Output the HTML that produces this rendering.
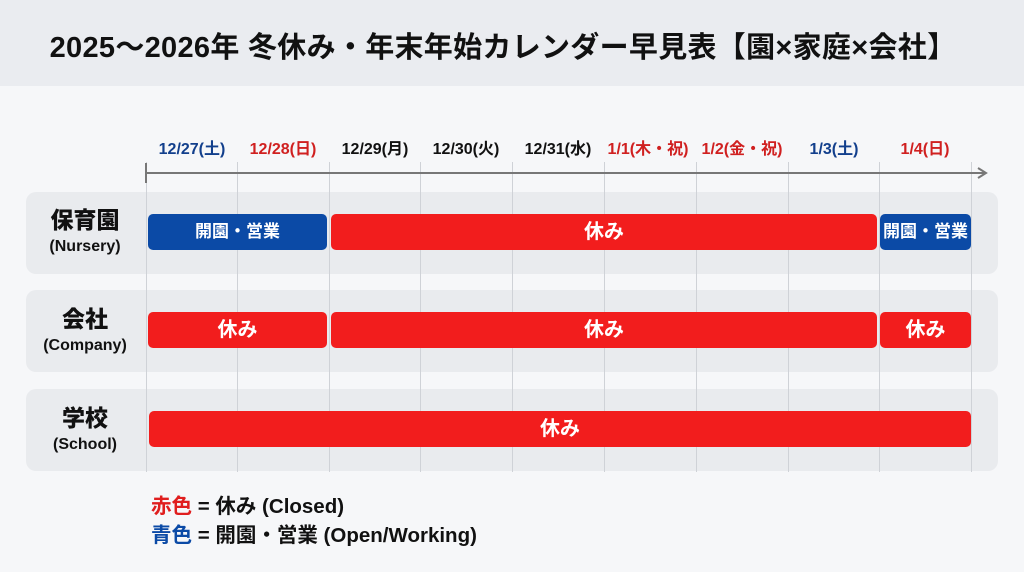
<!DOCTYPE html>
<html><head><meta charset="utf-8"><style>
body{margin:0;width:1024px;height:572px;background:#f6f7f9;font-family:"Liberation Sans","Noto Sans CJK JP",sans-serif;position:relative;overflow:hidden}
.t{position:absolute;left:0;top:0;width:1024px;height:86px;background:#eaecf0}
.t div{position:absolute;left:0;width:1006px;top:24px;text-align:center;font-size:29px;letter-spacing:0.3px;font-weight:bold;color:#111;white-space:nowrap}
.d{position:absolute;top:135px;width:92px;text-align:center;font-size:16px;font-weight:bold;white-space:nowrap}
.row{position:absolute;left:26px;width:972px;height:82px;background:#e9ebee;border-radius:10px}
.lab{position:absolute;left:26px;width:118px;text-align:center;font-weight:bold;color:#111}
.lab b{display:block;font-size:23px;line-height:28px}
.lab span{display:block;font-size:16px;margin-top:4px}
.g{position:absolute;top:162px;height:310px;width:1px;background:#cfd2d7}
.bar{position:absolute;height:36px;border-radius:5px;color:#fff;font-weight:bold;font-size:20px;text-align:center;line-height:36px}
.r{background:#f21d1d}.b{background:#0b4aa6;font-size:17px}
.leg{position:absolute;left:151px;font-size:20.5px;font-weight:bold;color:#111}
</style></head><body>
<div class="t"><div>2025～2026年 冬休み・年末年始カレンダー早見表【園×家庭×会社】</div></div>
<div class="row" style="top:192px"></div>
<div class="row" style="top:290px"></div>
<div class="row" style="top:389px"></div>
<div class="g" style="left:146px"></div><div class="g" style="left:237px"></div><div class="g" style="left:329px"></div><div class="g" style="left:420px"></div><div class="g" style="left:512px"></div><div class="g" style="left:604px"></div><div class="g" style="left:696px"></div><div class="g" style="left:788px"></div><div class="g" style="left:879px"></div><div class="g" style="left:971px"></div>
<div style="position:absolute;left:146px;top:172px;width:838px;height:2px;background:#777"></div>
<div style="position:absolute;left:145px;top:163px;width:2px;height:20px;background:#777"></div>
<svg style="position:absolute;left:976px;top:166px" width="14" height="14"><path d="M2 2 L10 7 L2 12" stroke="#777" stroke-width="2" fill="none"/></svg>
<div class="d" style="left:146px;color:#123f8c">12/27(土)</div>
<div class="d" style="left:237px;color:#d02020">12/28(日)</div>
<div class="d" style="left:329px;color:#111">12/29(月)</div>
<div class="d" style="left:420px;color:#111">12/30(火)</div>
<div class="d" style="left:512px;color:#111">12/31(水)</div>
<div class="d" style="left:602px;color:#d02020">1/1(木・祝)</div>
<div class="d" style="left:696px;color:#d02020">1/2(金・祝)</div>
<div class="d" style="left:788px;color:#123f8c">1/3(土)</div>
<div class="d" style="left:879px;color:#d02020">1/4(日)</div>
<div class="lab" style="top:206px"><b>保育園</b><span>(Nursery)</span></div>
<div class="lab" style="top:305px"><b>会社</b><span>(Company)</span></div>
<div class="lab" style="top:404px"><b>学校</b><span>(School)</span></div>
<div class="bar b" style="left:148px;top:214px;width:179px">開園・営業</div>
<div class="bar r" style="left:331px;top:214px;width:546px">休み</div>
<div class="bar b" style="left:880px;top:214px;width:91px">開園・営業</div>
<div class="bar r" style="left:148px;top:312px;width:179px">休み</div>
<div class="bar r" style="left:331px;top:312px;width:546px">休み</div>
<div class="bar r" style="left:880px;top:312px;width:91px">休み</div>
<div class="bar r" style="left:149px;top:411px;width:822px">休み</div>
<div class="leg" style="top:489px"><span style="color:#e01e1e">赤色</span> = 休み (Closed)</div>
<div class="leg" style="top:518px"><span style="color:#0b4aa6">青色</span> = 開園・営業 (Open/Working)</div>
</body></html>
